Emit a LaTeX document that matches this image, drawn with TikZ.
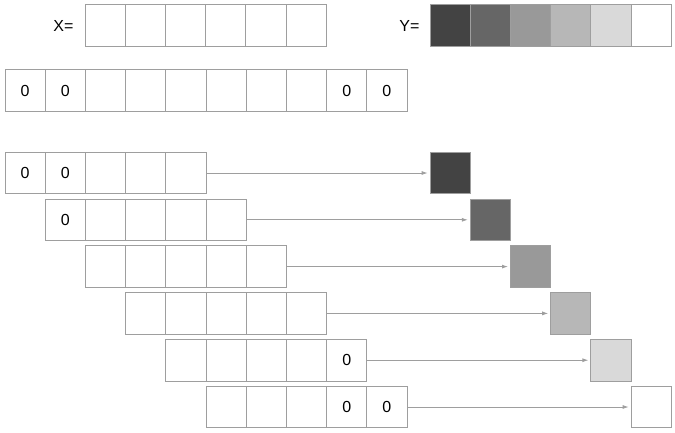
\documentclass[tikz,border=0pt]{standalone}
\usepackage{fontspec}
\setmainfont{Liberation Sans}
\usetikzlibrary{arrows.meta}
\definecolor{ln}{HTML}{9E9E9E}
\definecolor{g1}{HTML}{434343}
\definecolor{g2}{HTML}{666666}
\definecolor{g3}{HTML}{999999}
\definecolor{g4}{HTML}{B7B7B7}
\definecolor{g5}{HTML}{D9D9D9}
\definecolor{g6}{HTML}{FFFFFF}
\begin{document}
\begin{tikzpicture}[x=1pt,y=-1pt,
  cell/.style={draw=ln,line width=0.8pt,rectangle,inner sep=0pt,minimum width=40.2pt,minimum height=41.5pt},
  txt/.style={inner sep=0pt,font=\fontsize{16}{19}\selectfont},
  arr/.style={draw=ln,line width=0.8pt,-{Latex[length=6pt,width=4pt]},shorten >=2pt}]
\useasboundingbox (0,0) rectangle (675,432);
% X row
\node[txt] (xl) at (63.5,25.5) {X=};
\foreach \j in {1,...,6} \node[cell] (x\j) at ({85+40.2*(\j-0.5)},25.5) {};
% Y row
\node[txt] (yl) at (409.5,25.5) {Y=};
\foreach \j/\c in {1/g1,2/g2,3/g3,4/g4,5/g5,6/g6} \node[cell,fill=\c] (y\j) at ({430+40.2*(\j-0.5)},25.5) {};
% padded row
\foreach \j in {1,...,10} \node[cell] (p\j) at ({5+40.2*(\j-0.5)},90.5) {};
\foreach \j in {1,2,9,10} \node[txt] (pz\j) at (p\j) {0};
% window rows
\foreach \k/\c in {1/g1,2/g2,3/g3,4/g4,5/g5,6/g6} {
  \foreach \j in {1,...,5}
    \node[cell] (r\k c\j) at ({5+40.2*(\k-1)+40.2*(\j-0.5)},{173+46.8*(\k-1)}) {};
  \node[cell,fill=\c] (s\k) at ({430+40.2*(\k-0.5)},{173+46.8*(\k-1)}) {};
  \draw[arr] (r\k c5.east) -- (s\k.west);
}
\foreach \k/\j in {1/1,1/2,2/1,5/5,6/4,6/5} \node[txt] (z\k\j) at (r\k c\j) {0};
\end{tikzpicture}
\end{document}
